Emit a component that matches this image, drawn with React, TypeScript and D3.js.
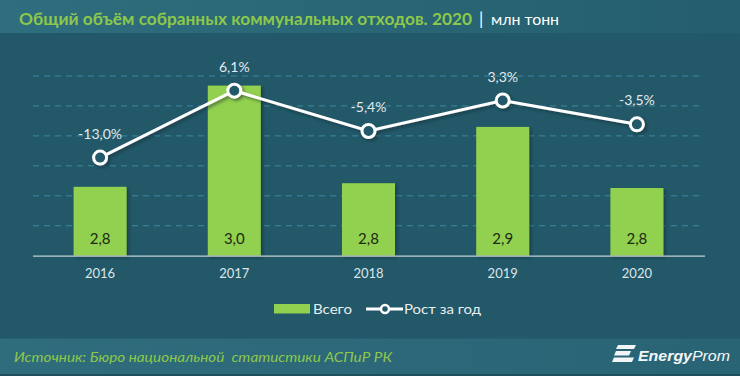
import React from "react";
import * as d3 from "d3";

const years = ["2016", "2017", "2018", "2019", "2020"];
const totals = [2.815, 2.984, 2.821, 2.915, 2.813];
const growth = [-13.0, 6.1, -5.4, 3.3, -3.5];
const gridTicks = [2.75, 2.8, 2.85, 2.9, 2.95, 3.0];

const titleText = "Общий объём собранных коммунальных отходов. 2020";
const unitText = "млн тонн";
const legendBar = "Всего";
const legendLine = "Рост за год";
const sourceText = "Источник: Бюро национальной  статистики АСПиР РК";

const W = 740;
const H = 376;
const FONT = "Lato, 'Open Sans', sans-serif";

const fmt1 = (v: number) => d3.format(".1f")(v).replace(".", ",").replace("\u2212", "-");

export default function App() {
  const x = d3
    .scaleBand<string>()
    .domain(years)
    .range([33, 704])
    .paddingInner(0.605)
    .paddingOuter(0.3025);
  const y = d3.scaleLinear().domain([2.7, 3.0]).range([255.7, 76]);
  const y2 = d3.scaleLinear().domain([-41, 10.3]).range([255.7, 76]);

  const cx = (d: string) => (x(d) as number) + x.bandwidth() / 2;
  const pts: [number, number][] = years.map((d, i) => [cx(d), y2(growth[i])]);
  const line = d3.line<[number, number]>()(pts) as string;

  return (
    <svg
      width={W}
      height={H}
      style={{ position: "absolute", left: 0, top: 0 }}
      fontFamily={FONT}
    >
      <defs>
        <linearGradient id="hdr" x1="0" x2="1" y1="0" y2="0">
          <stop offset="0" stopColor="#2f6e7e" />
          <stop offset="1" stopColor="#245e6d" />
        </linearGradient>
        <linearGradient id="ftr" x1="0" x2="1" y1="0" y2="0">
          <stop offset="0" stopColor="#2f6c7c" />
          <stop offset="1" stopColor="#296475" />
        </linearGradient>
        <filter id="sh" x="-20%" y="-20%" width="140%" height="140%">
          <feDropShadow dx="2" dy="2" stdDeviation="1.5" floodColor="#0b2a33" floodOpacity="0.55" />
        </filter>
      </defs>
      <rect x={0} y={0} width={W} height={H} fill="#225868" />
      <rect x={0} y={0} width={W} height={33} fill="url(#hdr)" />
      <rect x={0} y={338.5} width={W} height={H - 338.5} fill="url(#ftr)" />
      <rect x={0} y={374} width={W} height={2} fill="#1d4f5c" />

      {/* title */}
      <text x={19} y={25} fontSize={17} fontWeight={700} fill="#8cc84b" textLength={453} lengthAdjust="spacingAndGlyphs">
        {titleText}
      </text>
      <text x={479} y={25} fontSize={17} fill="#ffffff">|</text>
      <text x={491} y={25} fontSize={15} fill="#ffffff" textLength={68} lengthAdjust="spacingAndGlyphs">
        {unitText}
      </text>

      {/* gridlines */}
      {gridTicks.map((t) => (
        <line
          key={t}
          x1={33}
          x2={703}
          y1={y(t)}
          y2={y(t)}
          stroke="#3d8aa0"
          strokeWidth={1}
          strokeDasharray="6,5"
        />
      ))}

      {/* bars */}
      {years.map((d, i) => (
        <rect
          key={d}
          x={x(d)}
          y={y(totals[i])}
          width={x.bandwidth()}
          height={y(2.7) - y(totals[i])}
          fill="#92d050"
          filter="url(#sh)"
        />
      ))}
      <line x1={33} x2={705} y1={y(2.7) + 0.5} y2={y(2.7) + 0.5} stroke="#c2d0d6" strokeWidth={1.2} />

      {/* bar labels */}
      {years.map((d, i) => (
        <text key={d} x={cx(d)} y={244} textAnchor="middle" fontSize={15} fill="#1b2a12">
          {fmt1(totals[i])}
        </text>
      ))}

      {/* year labels */}
      {years.map((d) => (
        <text key={d} x={cx(d)} y={277.5} textAnchor="middle" fontSize={13} fill="#dbe6eb">
          {d}
        </text>
      ))}

      {/* line */}
      <g filter="url(#sh)">
        <path d={line} fill="none" stroke="#ffffff" strokeWidth={3} />
        {pts.map((p, i) => (
          <circle key={i} cx={p[0]} cy={p[1]} r={6.5} fill="#225868" stroke="#ffffff" strokeWidth={3} />
        ))}
      </g>
      {pts.map((p, i) => (
        <text key={i} x={p[0]} y={p[1] - 19} textAnchor="middle" fontSize={14} fill="#e3eaee">
          {fmt1(growth[i]) + "%"}
        </text>
      ))}

      {/* legend */}
      <rect x={274} y={304} width={36} height={9.5} fill="#92d050" />
      <text x={313} y={314} fontSize={14} fill="#e8eef1" textLength={39} lengthAdjust="spacingAndGlyphs">
        {legendBar}
      </text>
      <line x1={366} x2={403} y1={309} y2={309} stroke="#ffffff" strokeWidth={3} />
      <circle cx={385} cy={309} r={4} fill="#225868" stroke="#ffffff" strokeWidth={2.5} />
      <text x={404} y={314} fontSize={14} fill="#e8eef1" textLength={77} lengthAdjust="spacingAndGlyphs">
        {legendLine}
      </text>

      {/* footer */}
      <text x={14} y={362} fontSize={13} fontStyle="italic" fill="#8cc84b" textLength={378} lengthAdjust="spacingAndGlyphs" style={{ whiteSpace: "pre" }}>
        {sourceText}
      </text>
      <g fill="#f2f5f6">
        <path d="M618,345 L636,345 L634,349 L616,349 Z" />
        <path d="M616,351 L631,351 L629,355.5 L614,355.5 Z" />
        <path d="M614,357.5 L634,357.5 L632,362 L612,362 Z" />
      </g>
      <text x={638} y={361} fontSize={15} fontStyle="italic" fill="#f4f7f8" fontFamily="'Liberation Sans', sans-serif" textLength={92} lengthAdjust="spacingAndGlyphs">
        <tspan fontWeight={700}>Energy</tspan>
        <tspan>Prom</tspan>
      </text>
    </svg>
  );
}
